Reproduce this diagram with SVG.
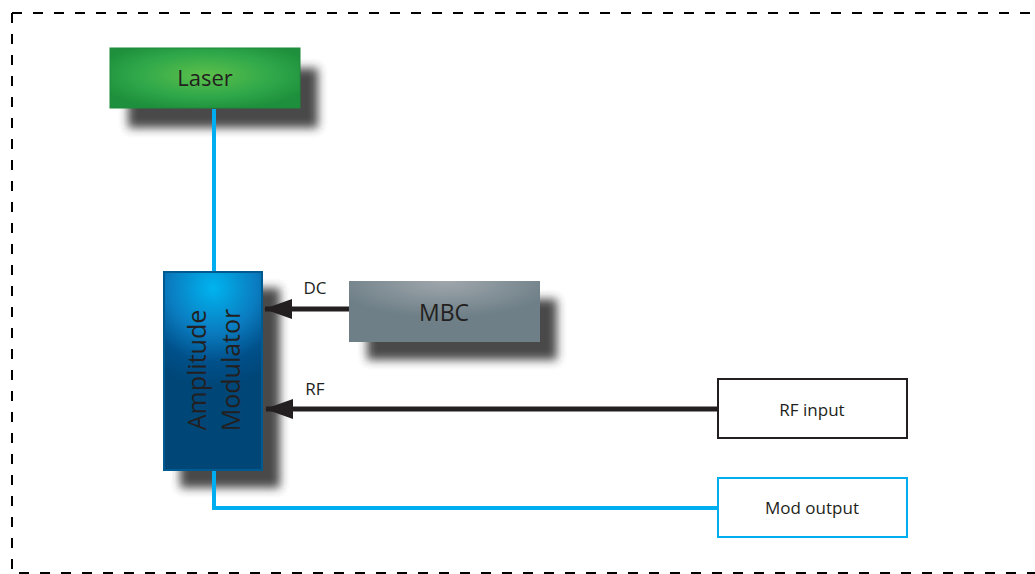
<svg xmlns="http://www.w3.org/2000/svg" width="1035" height="574" viewBox="0 0 1035 574">
<style>
.lbl{font-family:"Open Sans","Liberation Sans",sans-serif;fill:#231f20}
.blue{stroke:#00aeef;stroke-width:4;fill:none}
.blk{stroke:#231f20;stroke-width:5;fill:none}
.shadow{fill:#2a2a2a;opacity:0.85}
</style>
<defs>
<filter id="sh" x="-30%" y="-30%" width="160%" height="180%">
<feGaussianBlur stdDeviation="5"/>
</filter>
<radialGradient id="gLaser" cx="0.5" cy="0.45" r="0.6">
<stop offset="0" stop-color="#5cbf4a"/>
<stop offset="0.6" stop-color="#2fa84a"/>
<stop offset="1" stop-color="#1e8f3c"/>
</radialGradient>
<radialGradient id="gAmp" cx="0.5" cy="0.08" r="1" fx="0.5" fy="0.08" gradientTransform="translate(0.5 0.08) scale(1 0.5) translate(-0.5 -0.08)">
<stop offset="0" stop-color="#00b4ef"/>
<stop offset="0.45" stop-color="#0a7cc0"/>
<stop offset="0.75" stop-color="#00508a"/>
<stop offset="1" stop-color="#004677"/>
</radialGradient>
<radialGradient id="gMbc" cx="0.5" cy="0" r="0.6" fx="0.5" fy="0">
<stop offset="0" stop-color="#a0a7ad"/>
<stop offset="1" stop-color="#6e7f87"/>
</radialGradient>
<marker id="ah" markerWidth="28" markerHeight="20" refX="27" refY="10" orient="auto" markerUnits="userSpaceOnUse" viewBox="0 0 28 20">
<path d="M0,0 L28,10 L0,20 Z" fill="#231f20"/>
</marker>
</defs>
<rect x="0" y="0" width="1035" height="574" fill="#ffffff"/>
<path d="M12,13 H1040 M12,13 V573 H1040" fill="none" stroke="#000" stroke-width="2" stroke-dasharray="10 11"/>
<g id="laser">
<rect x="128" y="68" width="190" height="60" class="shadow" filter="url(#sh)"/>
<rect x="110" y="48" width="190" height="60" fill="url(#gLaser)" stroke="#1e8a3a" stroke-width="1"/>
<text class="lbl" x="205" y="86" font-size="22" text-anchor="middle">Laser</text>
</g>
<g id="amplitude-modulator">
<rect x="180" y="288" width="100" height="200" class="shadow" filter="url(#sh)"/>
<rect x="164" y="272" width="98" height="198" fill="url(#gAmp)" stroke="#005a92" stroke-width="2"/>
<text class="lbl" font-size="25" text-anchor="middle" transform="translate(213,370) rotate(-90)"><tspan x="0" y="-7">Amplitude</tspan><tspan x="0" y="27">Modulator</tspan></text>
</g>
<g id="mbc">
<rect x="367" y="299" width="190" height="61" class="shadow" filter="url(#sh)"/>
<rect x="349" y="281" width="191" height="61" fill="url(#gMbc)"/>
<text class="lbl" x="444" y="321" font-size="23" text-anchor="middle">MBC</text>
</g>
<g id="rf-input">
<rect x="718" y="379" width="189" height="59" fill="#fff" stroke="#231f20" stroke-width="2"/>
<text class="lbl" x="812" y="416" font-size="17" text-anchor="middle">RF input</text>
</g>
<g id="mod-output">
<rect x="718" y="478" width="189" height="59" fill="#fff" stroke="#00aeef" stroke-width="2"/>
<text class="lbl" x="812" y="514" font-size="17" text-anchor="middle">Mod output</text>
</g>
<g id="connectors">
<path class="blue" d="M214,109 V271"/>
<path class="blue" d="M214,471 V508 H717"/>
<path class="blk" d="M349,309 H265" marker-end="url(#ah)"/>
<path class="blk" d="M717,409 H266" marker-end="url(#ah)"/>
<text class="lbl" x="315" y="294" font-size="17" text-anchor="middle">DC</text>
<text class="lbl" x="315" y="395" font-size="17" text-anchor="middle">RF</text>
</g>
</svg>
